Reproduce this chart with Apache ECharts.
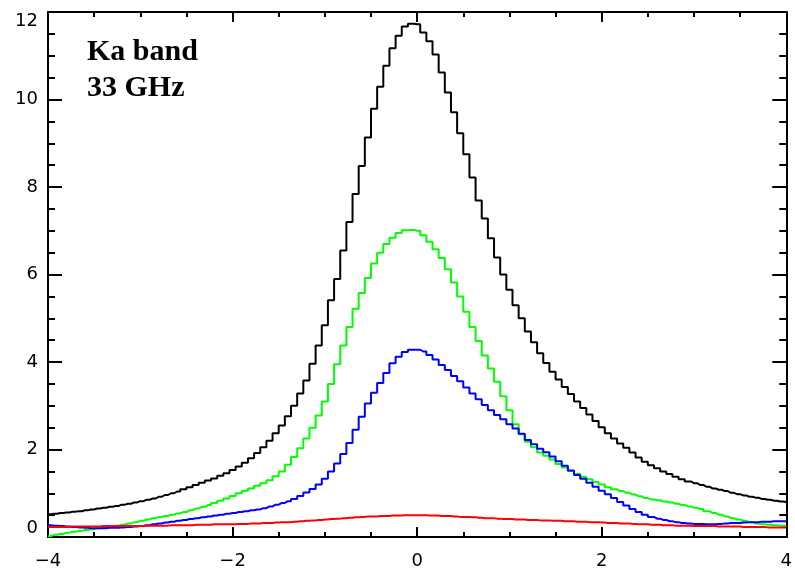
<!DOCTYPE html>
<html>
<head>
<meta charset="utf-8">
<script src="https://cdn.jsdelivr.net/npm/echarts@6/dist/echarts.min.js"></script>
<style>
html,body{margin:0;padding:0;background:#fff;}
#chart{width:795px;height:576px;}
</style>
</head>
<body>
<div id="chart"></div>
<script>
// Bin centres: -4 .. 4 in steps of 1/15 (121 bins)
const xStart = -4;
const binWidth = 1 / 15;
const nBins = 121;

const xTicks = [-4, -2, 0, 2, 4];
const yTicks = [0, 2, 4, 6, 8, 10, 12];

const blackValues = [
  0.52,0.53,0.55,0.56,0.58,0.59,0.61,0.63,0.65,0.67,
  0.69,0.71,0.74,0.76,0.79,0.82,0.85,0.88,0.92,0.96,
  1.00,1.04,1.09,1.14,1.19,1.24,1.29,1.34,1.40,1.46,
  1.53,1.61,1.70,1.80,1.92,2.05,2.20,2.37,2.55,2.76,
  3.00,3.28,3.58,3.96,4.38,4.84,5.41,5.90,6.55,7.20,
  7.84,8.48,9.13,9.79,10.29,10.77,11.17,11.46,11.67,11.73,
  11.72,11.53,11.33,11.03,10.62,10.16,9.71,9.23,8.75,8.22,
  7.69,7.28,6.83,6.39,6.00,5.65,5.30,5.00,4.70,4.45,
  4.20,3.98,3.78,3.60,3.43,3.27,3.10,2.95,2.80,2.65,
  2.51,2.37,2.25,2.14,2.04,1.93,1.82,1.72,1.64,1.57,
  1.50,1.44,1.38,1.32,1.27,1.23,1.19,1.15,1.11,1.08,
  1.05,1.01,0.98,0.95,0.92,0.90,0.87,0.85,0.83,0.81,
  0.80
];

const greenValues = [
  0.02,0.05,0.07,0.10,0.12,0.14,0.16,0.18,0.20,0.22,
  0.24,0.26,0.28,0.31,0.34,0.37,0.40,0.43,0.46,0.48,
  0.51,0.54,0.57,0.61,0.65,0.69,0.73,0.78,0.83,0.88,
  0.94,1.00,1.06,1.11,1.17,1.23,1.30,1.39,1.50,1.65,
  1.83,2.03,2.25,2.50,2.78,3.10,3.50,3.95,4.38,4.80,
  5.22,5.58,5.92,6.25,6.50,6.70,6.84,6.95,7.01,7.02,
  7.00,6.90,6.75,6.58,6.38,6.12,5.82,5.50,5.15,4.80,
  4.48,4.15,3.85,3.55,3.22,2.90,2.58,2.35,2.18,2.05,
  1.93,1.86,1.77,1.67,1.59,1.51,1.44,1.38,1.32,1.26,
  1.20,1.14,1.09,1.05,1.01,0.97,0.93,0.89,0.86,0.84,
  0.81,0.79,0.76,0.73,0.70,0.67,0.64,0.59,0.55,0.51,
  0.47,0.43,0.40,0.37,0.34,0.31,0.29,0.28,0.27,0.26,
  0.25
];

const blueValues = [
  0.27,0.26,0.25,0.24,0.23,0.22,0.21,0.20,0.20,0.20,
  0.21,0.21,0.22,0.23,0.24,0.25,0.27,0.29,0.31,0.33,
  0.35,0.37,0.39,0.41,0.43,0.45,0.47,0.49,0.51,0.53,
  0.55,0.57,0.59,0.61,0.63,0.66,0.70,0.74,0.78,0.82,
  0.87,0.94,1.02,1.10,1.20,1.33,1.50,1.68,1.90,2.15,
  2.45,2.75,3.05,3.30,3.52,3.75,3.97,4.12,4.23,4.28,
  4.28,4.24,4.16,4.06,3.93,3.82,3.68,3.56,3.42,3.28,
  3.15,3.02,2.90,2.79,2.69,2.58,2.48,2.36,2.22,2.12,
  2.02,1.94,1.84,1.73,1.63,1.52,1.42,1.33,1.24,1.15,
  1.06,0.98,0.89,0.80,0.72,0.64,0.57,0.51,0.46,0.42,
  0.39,0.36,0.34,0.32,0.31,0.30,0.30,0.29,0.29,0.30,
  0.31,0.32,0.32,0.33,0.34,0.34,0.35,0.35,0.36,0.36,
  0.36
];

const redValues = [
  0.23,0.23,0.23,0.23,0.24,0.24,0.24,0.24,0.24,0.25,
  0.25,0.25,0.25,0.25,0.25,0.25,0.26,0.26,0.26,0.26,
  0.27,0.27,0.27,0.27,0.28,0.28,0.28,0.29,0.29,0.29,
  0.29,0.30,0.30,0.31,0.31,0.32,0.32,0.33,0.34,0.34,
  0.35,0.36,0.37,0.38,0.39,0.40,0.41,0.42,0.43,0.44,
  0.45,0.46,0.47,0.47,0.48,0.48,0.49,0.49,0.50,0.50,
  0.50,0.50,0.49,0.49,0.48,0.48,0.47,0.46,0.46,0.45,
  0.44,0.43,0.43,0.42,0.41,0.41,0.40,0.40,0.39,0.39,
  0.38,0.38,0.37,0.37,0.36,0.36,0.35,0.35,0.34,0.34,
  0.33,0.32,0.32,0.31,0.31,0.30,0.29,0.29,0.28,0.28,
  0.27,0.27,0.26,0.26,0.26,0.25,0.25,0.25,0.25,0.24,
  0.24,0.24,0.24,0.23,0.23,0.23,0.23,0.22,0.22,0.22,
  0.22
];

const annotationLines = ['Ka band', '33 GHz'];

const binCenters = [];
for (let i = 0; i < nBins; i++) binCenters.push(+(xStart + i * binWidth).toFixed(6));
const pairs = vals => vals.map((v, i) => [binCenters[i], v]);

const fmt = v => (v < 0 ? '\u2212' + Math.abs(v) : String(v));
const labelFont = { fontFamily: 'DejaVu Sans', fontSize: 18, color: '#000' };
const lineStyleAxis = { color: '#000', width: 2 };

function xAxisDef(pos, showLabel) {
  return {
    type: 'value', position: pos, min: xTicks[0], max: xTicks[xTicks.length - 1], interval: 2,
    axisLine: { show: true, onZero: false, lineStyle: lineStyleAxis },
    axisTick: { show: true, inside: true, length: 10, lineStyle: lineStyleAxis },
    minorTick: { show: true, splitNumber: 4, length: 5, lineStyle: lineStyleAxis },
    splitLine: { show: false },
    axisLabel: Object.assign({ show: showLabel, margin: 15, formatter: fmt }, labelFont)
  };
}
function yAxisDef(pos, showLabel) {
  return {
    type: 'value', position: pos, min: yTicks[0], max: yTicks[yTicks.length - 1], interval: 2,
    axisLine: { show: true, onZero: false, lineStyle: lineStyleAxis },
    axisTick: { show: true, inside: true, length: 14, lineStyle: lineStyleAxis },
    minorTick: { show: true, splitNumber: 4, length: 7, lineStyle: lineStyleAxis },
    splitLine: { show: false },
    axisLabel: Object.assign({ show: showLabel, margin: 10, formatter: fmt,
      verticalAlignMinLabel: 'bottom', verticalAlignMaxLabel: 'top' }, labelFont)
  };
}

function stepSeries(name, vals, color) {
  return {
    name: name, type: 'line', step: 'middle', data: pairs(vals),
    xAxisIndex: 0, yAxisIndex: 0, showSymbol: false, symbol: 'none',
    lineStyle: { color: color, width: 2 }, animation: false, silent: true
  };
}

const chart = echarts.init(document.getElementById('chart'), null, { renderer: 'canvas' });
chart.setOption({
  backgroundColor: '#fff',
  animation: false,
  grid: { left: 48, right: 8, top: 12, bottom: 39 },
  xAxis: [xAxisDef('bottom', true), xAxisDef('top', false)],
  yAxis: [yAxisDef('left', true), yAxisDef('right', false)],
  series: [
    stepSeries('black', blackValues, '#000000'),
    stepSeries('green', greenValues, '#00ff00'),
    stepSeries('blue', blueValues, '#0000ff'),
    stepSeries('red', redValues, '#ff0000')
  ],
  graphic: annotationLines.map((t, i) => ({
    type: 'text', left: 87, top: 37 + i * 36.5,
    style: { text: t, font: 'bold 30px "Liberation Serif"', fill: '#000' }
  }))
});
</script>
</body>
</html>
